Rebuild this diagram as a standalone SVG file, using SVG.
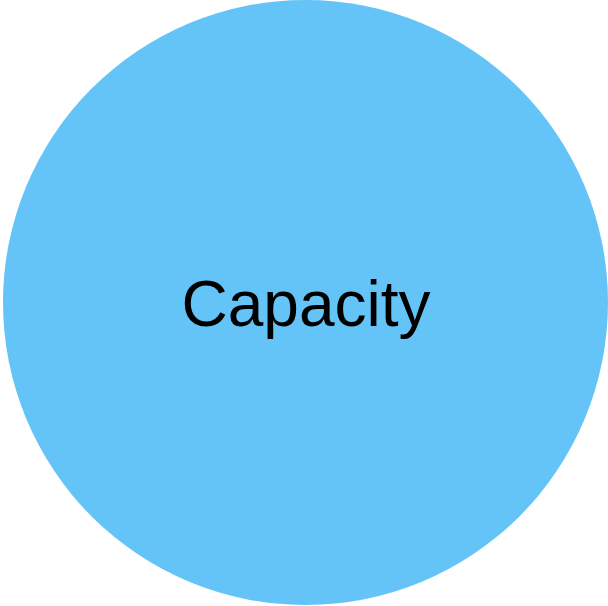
<svg xmlns="http://www.w3.org/2000/svg" width="608" height="606" viewBox="0 0 608 606">
<style>
.node{fill:#64C4F8}
.label{font-family:"Liberation Sans",Arial,sans-serif;font-size:64px;fill:#000;text-anchor:middle}
</style>
<rect width="608" height="606" fill="#fff"/>
<g id="capacity">
<ellipse class="node" cx="305.5" cy="302.5" rx="302.5" ry="302.5"/>
<text class="label" x="306" y="326">Capacity</text>
</g>
<g id="connectors"/>
</svg>
